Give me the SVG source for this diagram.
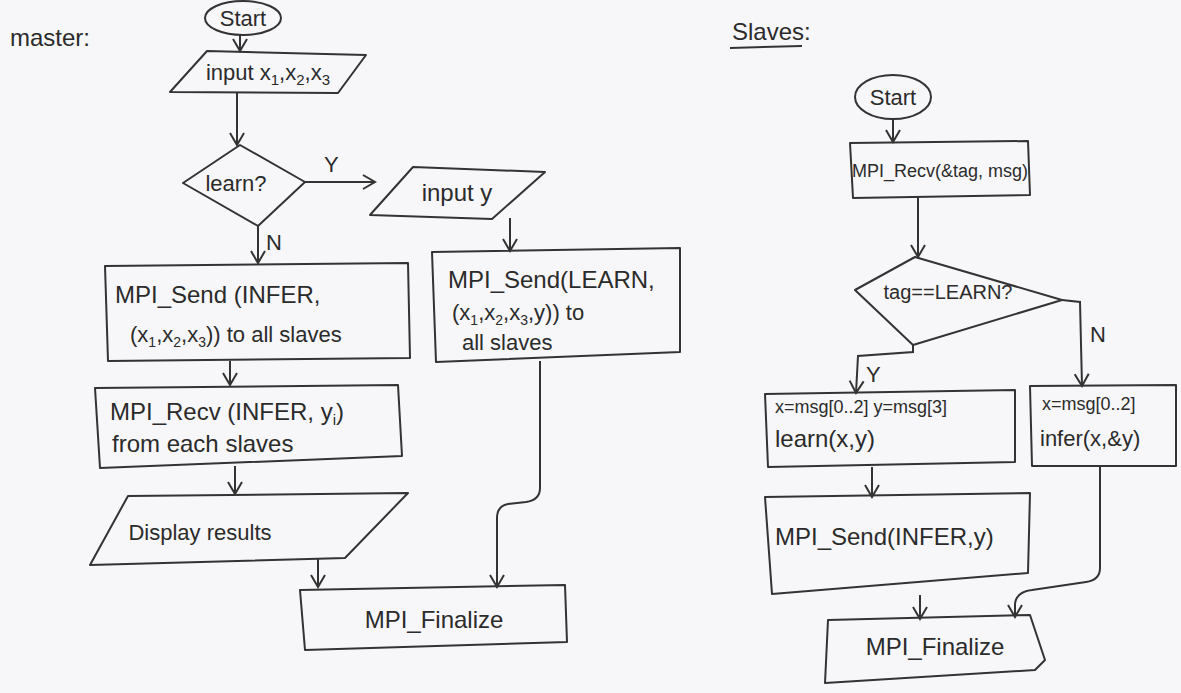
<svg xmlns="http://www.w3.org/2000/svg" width="1181" height="693" viewBox="0 0 1181 693">
<style>
.shape{fill:none;stroke:#333;stroke-width:2;stroke-linejoin:round}
.conn{fill:none;stroke:#333;stroke-width:2;marker-end:url(#arr)}
.line{fill:none;stroke:#333;stroke-width:2}
text{font-family:"Liberation Sans",Arial,sans-serif;fill:#2b2b2b}
.t24{font-size:24px}
.t22{font-size:22px}
.t20{font-size:20px}
.t18{font-size:18px}
.mid{text-anchor:middle}
</style>
<defs>
<marker id="arr" viewBox="0 0 16 16" refX="14" refY="8" markerWidth="16" markerHeight="16" markerUnits="userSpaceOnUse" orient="auto">
<path d="M2,1 L14,8 L2,15" fill="none" stroke="#333" stroke-width="2"/>
</marker>
</defs>
<rect width="1181" height="693" fill="#f7f7f9"/>

<!-- titles -->
<text x="10" y="46" class="t24">master:</text>
<g id="slaves-title">
<text x="732" y="40" class="t24">Slaves:</text>
<path class="line" d="M730,48 L802,46"/>
</g>

<!-- connectors -->
<g id="connectors">
<path class="conn" d="M240,35 L240,51"/>
<path class="conn" d="M237,93 L237,145"/>
<path class="conn" d="M305,182 L375,182"/>
<path class="conn" d="M258,226 L258,263"/>
<path class="conn" d="M510,218 L510,251"/>
<path class="conn" d="M230,361 L230,385"/>
<path class="conn" d="M235,466 L235,494"/>
<path class="conn" d="M318,558 L318,587"/>
<path class="conn" d="M540,361 L540,488 Q540,500 526,502 L508,504 Q497,506 497,518 L497,587"/>
<text x="324" y="172" class="t22">Y</text>
<text x="266" y="250" class="t22">N</text>

<path class="conn" d="M893,119 L893,142"/>
<path class="conn" d="M918,197 L918,257"/>
<path class="conn" d="M913,345 L913,352 L858,356 L856,393"/>
<path class="conn" d="M1062,300 L1080,302 L1082,386"/>
<path class="conn" d="M872,467 L872,497"/>
<path class="conn" d="M920,595 L920,619"/>
<path class="conn" d="M1100,467 L1100,568 Q1100,580 1086,582 L1032,590 Q1016,592 1015,604 L1015,617"/>
<text x="866" y="382" class="t22">Y</text>
<text x="1090" y="342" class="t22">N</text>
</g>

<!-- master nodes -->
<g id="m-start">
<ellipse class="shape" cx="243" cy="18" rx="38" ry="17"/>
<text x="243" y="26" class="t22 mid">Start</text>
</g>
<g id="m-input-x">
<polygon class="shape" points="207,51 366,55 338,93 170,92"/>
<text x="268" y="80" class="t22 mid">input x<tspan dy="5" font-size="15">1</tspan><tspan dy="-5">,x</tspan><tspan dy="5" font-size="15">2</tspan><tspan dy="-5">,x</tspan><tspan dy="5" font-size="15">3</tspan></text>
</g>
<g id="m-learn">
<polygon class="shape" points="240,145 305,182 258,226 183,183"/>
<text x="236" y="191" class="t22 mid">learn?</text>
</g>
<g id="m-input-y">
<polygon class="shape" points="413,167 545,172 492,219 370,215"/>
<text x="457" y="201" class="t24 mid">input y</text>
</g>
<g id="m-send-infer">
<polygon class="shape" points="105,266 408,263 410,358 108,361"/>
<text x="115" y="303" class="t24">MPI_Send (INFER,</text>
<text x="130" y="342" class="t22">(x<tspan dy="5" font-size="14">1</tspan><tspan dy="-5">,x</tspan><tspan dy="5" font-size="14">2</tspan><tspan dy="-5">,x</tspan><tspan dy="5" font-size="14">3</tspan><tspan dy="-5">)) to all slaves</tspan></text>
</g>
<g id="m-send-learn">
<polygon class="shape" points="432,252 680,248 680,352 436,362"/>
<text x="448" y="288" class="t24">MPI_Send(LEARN,</text>
<text x="452" y="320" class="t22">(x<tspan dy="5" font-size="14">1</tspan><tspan dy="-5">,x</tspan><tspan dy="5" font-size="14">2</tspan><tspan dy="-5">,x</tspan><tspan dy="5" font-size="14">3</tspan><tspan dy="-5">,y)) to</tspan></text>
<text x="462" y="350" class="t22">all slaves</text>
</g>
<g id="m-recv-infer">
<polygon class="shape" points="95,388 398,385 402,456 100,468"/>
<text x="110" y="420" class="t24">MPI_Recv (INFER, y<tspan dy="5" font-size="15">i</tspan><tspan dy="-5">)</tspan></text>
<text x="112" y="452" class="t24">from each slaves</text>
</g>
<g id="m-display">
<polygon class="shape" points="128,496 408,493 345,558 90,565"/>
<text x="200" y="540" class="t22 mid">Display results</text>
</g>
<g id="m-finalize">
<polygon class="shape" points="300,590 565,585 567,642 305,650"/>
<text x="434" y="628" class="t24 mid">MPI_Finalize</text>
</g>

<!-- slave nodes -->
<g id="s-start">
<ellipse class="shape" cx="893" cy="97" rx="38" ry="22"/>
<text x="893" y="105" class="t22 mid">Start</text>
</g>
<g id="s-recv">
<polygon class="shape" points="850,143 1028,141 1030,195 853,198"/>
<text x="940" y="177" class="t18 mid">MPI_Recv(&amp;tag, msg)</text>
</g>
<g id="s-decide">
<polygon class="shape" points="915,257 1062,300 913,345 855,290"/>
<text x="948" y="299" class="t20 mid">tag==LEARN?</text>
</g>
<g id="s-learn">
<polygon class="shape" points="765,394 1015,390 1015,462 768,467"/>
<text x="775" y="413" class="t18">x=msg[0..2] y=msg[3]</text>
<text x="775" y="447" class="t24">learn(x,y)</text>
</g>
<g id="s-infer">
<polygon class="shape" points="1030,386 1176,385 1176,466 1032,466"/>
<text x="1042" y="410" class="t18">x=msg[0..2]</text>
<text x="1040" y="446" class="t22">infer(x,&amp;y)</text>
</g>
<g id="s-send">
<polygon class="shape" points="765,497 1030,493 1028,573 772,594"/>
<text x="775" y="545" class="t24">MPI_Send(INFER,y)</text>
</g>
<g id="s-finalize">
<polygon class="shape" points="828,620 1030,615 1045,660 1035,670 825,683"/>
<text x="935" y="655" class="t24 mid">MPI_Finalize</text>
</g>
</svg>
